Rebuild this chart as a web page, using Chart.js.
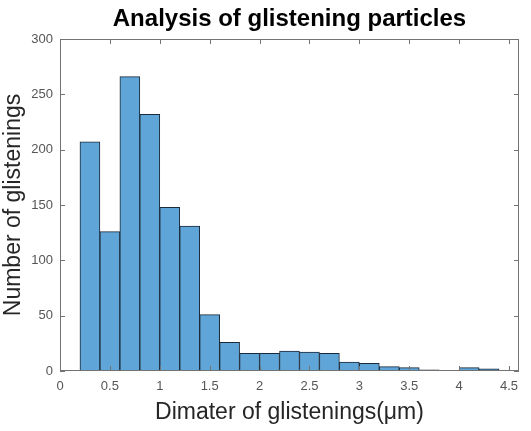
<!DOCTYPE html>
<html>
<head>
<meta charset="utf-8">
<script src="https://cdn.jsdelivr.net/npm/chart.js@4"></script>
<style>
  html, body { margin: 0; padding: 0; background: #fff; }
  #wrap { width: 531px; height: 431px; }
</style>
</head>
<body>
<div id="wrap"><canvas id="hist"></canvas></div>
<script>
// bin centres (bins are 0.2 wide) and counts
const binCenters = [0.3, 0.5, 0.7, 0.9, 1.1, 1.3, 1.5, 1.7, 1.9, 2.1, 2.3, 2.5, 2.7, 2.9, 3.1, 3.3, 3.5, 3.7, 3.9, 4.1, 4.3];
const counts = [207, 126, 266, 232, 148, 131, 51, 26, 16, 16, 18, 17, 16, 8, 7, 4, 3, 1, 0, 3, 2];
const xTicks = [0, 0.5, 1, 1.5, 2, 2.5, 3, 3.5, 4, 4.5];
const yTicks = [0, 50, 100, 150, 200, 250, 300];

const font = "'Liberation Sans', Arial, Helvetica, sans-serif";

// MATLAB style box with inward ticks on all four sides
const boxPlugin = {
  id: 'box',
  afterDatasetsDraw(chart) {
    const { ctx, chartArea: a, scales } = chart;
    const len = 5;
    ctx.save();
    ctx.strokeStyle = '#737373';
    ctx.lineWidth = 1;
    ctx.strokeRect(a.left + 0.5, a.top + 0.5, a.right - a.left - 1, a.bottom - a.top - 1);
    ctx.beginPath();
    xTicks.forEach(v => {
      const px = Math.round(scales.x.getPixelForValue(v)) + 0.5;
      ctx.moveTo(px, a.bottom); ctx.lineTo(px, a.bottom - len);
      ctx.moveTo(px, a.top); ctx.lineTo(px, a.top + len);
    });
    yTicks.forEach(v => {
      const py = Math.round(scales.y.getPixelForValue(v)) + 0.5;
      ctx.moveTo(a.left, py); ctx.lineTo(a.left + len, py);
      ctx.moveTo(a.right, py); ctx.lineTo(a.right - len, py);
    });
    ctx.stroke();
    ctx.restore();
  }
};

new Chart(document.getElementById('hist').getContext('2d'), {
  type: 'bar',
  data: {
    datasets: [{
      data: binCenters.map((c, i) => ({ x: c, y: counts[i] })),
      backgroundColor: '#5fa5d7',
      borderColor: '#1b2a3a',
      borderWidth: 1,
      barPercentage: 1,
      categoryPercentage: 1,
    }],
  },
  options: {
    responsive: true,
    maintainAspectRatio: false,
    animation: false,
    layout: { padding: { left: 0, right: 12, top: 0, bottom: 0 } },
    plugins: {
      legend: { display: false },
      tooltip: { enabled: false },
      title: {
        display: true,
        fullSize: false,
        text: 'Analysis of glistening particles',
        color: '#000',
        font: { family: font, size: 24, weight: 'bold' },
        padding: { top: 5, bottom: 5.2 },
      },
    },
    scales: {
      x: {
        type: 'linear',
        offset: false,
        min: 0,
        max: 4.6,
        afterFit: s => { s.height = 60; },
        afterBuildTicks: s => { s.ticks = xTicks.map(v => ({ value: v })); },
        grid: { display: false, drawTicks: false },
        border: { display: false },
        ticks: {
          padding: 8,
          color: '#555',
          font: { family: font, size: 13 },
          callback: v => String(v),
        },
        title: {
          display: true,
          text: 'Dimater of glistenings(μm)',
          color: '#262626',
          font: { family: font, size: 23 },
          padding: { top: 0, bottom: 5 },
        },
      },
      y: {
        min: 0,
        max: 300,
        afterFit: s => { s.width = 60; },
        afterBuildTicks: s => { s.ticks = yTicks.map(v => ({ value: v })); },
        grid: { display: false, drawTicks: false },
        border: { display: false },
        ticks: {
          padding: 7,
          color: '#555',
          font: { family: font, size: 13 },
        },
        title: {
          display: true,
          text: 'Number of glistenings',
          color: '#262626',
          font: { family: font, size: 23 },
          padding: { top: 0, bottom: 0 },
        },
      },
    },
  },
  plugins: [boxPlugin],
});
</script>
</body>
</html>
